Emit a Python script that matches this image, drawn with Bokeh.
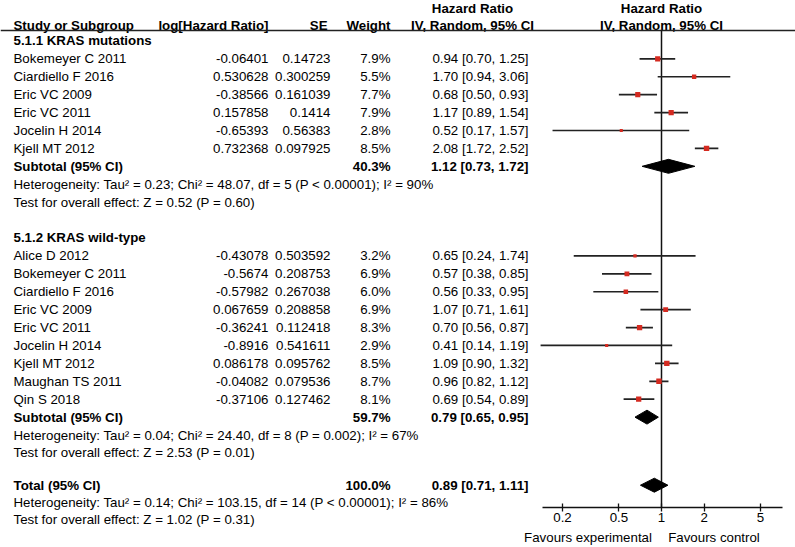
from math import sqrt
from bokeh.plotting import figure
from bokeh.models import (Range1d, LogScale, LogAxis, FixedTicker, ColumnDataSource,
                          CustomJSTickFormatter)
from bokeh.core.properties import value
from bokeh.embed import file_html
from bokeh.resources import INLINE

# ---------------- data ----------------
g1_title = "5.1.1 KRAS mutations"
g1_study = ["Bokemeyer C 2011", "Ciardiello F 2016", "Eric VC 2009", "Eric VC 2011",
            "Jocelin H 2014", "Kjell MT 2012"]
g1_loghr = [-0.06401, 0.530628, -0.38566, 0.157858, -0.65393, 0.732368]
g1_se = [0.14723, 0.300259, 0.161039, 0.1414, 0.56383, 0.097925]
g1_weight = [7.9, 5.5, 7.7, 7.9, 2.8, 8.5]
g1_hr = [0.94, 1.70, 0.68, 1.17, 0.52, 2.08]
g1_lo = [0.70, 0.94, 0.50, 0.89, 0.17, 1.72]
g1_hi = [1.25, 3.06, 0.93, 1.54, 1.57, 2.52]
g1_sub_weight = 40.3
g1_sub = [1.12, 0.73, 1.72]
g1_het = "Heterogeneity: Tau\u00b2 = 0.23; Chi\u00b2 = 48.07, df = 5 (P < 0.00001); I\u00b2 = 90%"
g1_test = "Test for overall effect: Z = 0.52 (P = 0.60)"

g2_title = "5.1.2 KRAS wild-type"
g2_study = ["Alice D 2012", "Bokemeyer C 2011", "Ciardiello F 2016", "Eric VC 2009",
            "Eric VC 2011", "Jocelin H 2014", "Kjell MT 2012", "Maughan TS 2011", "Qin S 2018"]
g2_loghr = [-0.43078, -0.5674, -0.57982, 0.067659, -0.36241, -0.8916, 0.086178, -0.04082, -0.37106]
g2_se = [0.503592, 0.208753, 0.267038, 0.208858, 0.112418, 0.541611, 0.095762, 0.079536, 0.127462]
g2_weight = [3.2, 6.9, 6.0, 6.9, 8.3, 2.9, 8.5, 8.7, 8.1]
g2_hr = [0.65, 0.57, 0.56, 1.07, 0.70, 0.41, 1.09, 0.96, 0.69]
g2_lo = [0.24, 0.38, 0.33, 0.71, 0.56, 0.14, 0.90, 0.82, 0.54]
g2_hi = [1.74, 0.85, 0.95, 1.61, 0.87, 1.19, 1.32, 1.12, 0.89]
g2_sub_weight = 59.7
g2_sub = [0.79, 0.65, 0.95]
g2_het = "Heterogeneity: Tau\u00b2 = 0.04; Chi\u00b2 = 24.40, df = 8 (P = 0.002); I\u00b2 = 67%"
g2_test = "Test for overall effect: Z = 2.53 (P = 0.01)"

total_weight = 100.0
total = [0.89, 0.71, 1.11]
total_het = "Heterogeneity: Tau\u00b2 = 0.14; Chi\u00b2 = 103.15, df = 14 (P < 0.00001); I\u00b2 = 86%"
total_test = "Test for overall effect: Z = 1.02 (P = 0.31)"

tick_values = [0.2, 0.5, 1, 2, 5]
favours = ["Favours experimental", "Favours control"]

# ---------------- layout / style ----------------
FONT = "Liberation Sans"
FS = "13.3px"
ROW0, STEP = 40.5, 17.95
W, H = 795, 547
AXIS_Y = 508                     # pixel row of the forest x axis
PX_ONE, PX_DEC = 661, 141.6      # pixel of HR = 1 and pixels per decade
FAV_AT = [0.3027, 2.349]         # axis positions of the two "Favours" captions
X_NAME, X_LOG, X_SE, X_W, X_HR, X_HRHDR = 13, 268, 330, 390, 528, 472
SQ_RED = "#d42a20"
LINE = "#222222"


def ry(k):
    return ROW0 + STEP * k


def fmt_ci(e, l, h):
    return f"{e:.2f} [{l:.2f}, {h:.2f}]"


def hr_of_px(px):
    return 10 ** ((px - PX_ONE) / PX_DEC)


p = figure(width=W, height=H, output_backend="svg", toolbar_location=None,
           x_range=Range1d(0, W), y_range=Range1d(AXIS_Y, 0),
           x_axis_location=None, y_axis_location=None,
           min_border_left=0, min_border_right=0, min_border_top=0,
           min_border_bottom=H - AXIS_Y)
p.extra_x_ranges = {"hr": Range1d(hr_of_px(0), hr_of_px(W))}
p.extra_x_scales = {"hr": LogScale()}
p.outline_line_color = None
p.grid.grid_line_color = None
p.background_fill_color = "white"
p.border_fill_color = "white"


def txt(x, y, t, align="left", bold=False, **kw):
    p.text(x=x, y=y, text=t, text_font=value(FONT), text_font_size=value(FS),
           text_align=align, text_baseline="middle", text_color="black",
           text_font_style="bold" if bold else "normal", **kw)


# ---- header ----
txt([X_NAME], [25], ["Study or Subgroup"], bold=True)
txt([X_LOG], [25], ["log[Hazard Ratio]"], "right", True)
txt([X_SE - 3], [25], ["SE"], "right", True)
txt([X_W], [25], ["Weight"], "right", True)
txt([X_HRHDR, X_HRHDR], [8, 25], ["Hazard Ratio", "IV, Random, 95% CI"], "center", True)
txt([1, 1], [8, 25], ["Hazard Ratio", "IV, Random, 95% CI"], "center", True,
    x_range_name="hr")
p.segment(x0=[0], x1=[W], y0=[30], y1=[30], line_color=LINE, line_width=1.5)

# ---- study rows ----
study = g1_study + g2_study
rows_y = [ry(k) for k in range(1, 7)] + [ry(k) for k in range(12, 21)]
weight = g1_weight + g2_weight
hr = g1_hr + g2_hr
lo = g1_lo + g2_lo
hi = g1_hi + g2_hi
src = ColumnDataSource(dict(
    y=rows_y, name=study,
    loghr=[str(v) for v in g1_loghr + g2_loghr],
    se=[str(v) for v in g1_se + g2_se],
    w=[f"{v:.1f}%" for v in weight],
    ci=[fmt_ci(e, l, h) for e, l, h in zip(hr, lo, hi)],
    hr=hr, lo=lo, hi=hi, size=[1.85 * sqrt(v) for v in weight],
))
common = dict(source=src, text_font=value(FONT), text_font_size=value(FS),
              text_baseline="middle", text_color="black")
p.text(x=X_NAME, y="y", text="name", text_align="left", **common)
p.text(x=X_LOG, y="y", text="loghr", text_align="right", **common)
p.text(x=X_SE, y="y", text="se", text_align="right", **common)
p.text(x=X_W, y="y", text="w", text_align="right", **common)
p.text(x=X_HR, y="y", text="ci", text_align="right", **common)

# ---- group titles, subtotals, total ----
txt([X_NAME, X_NAME], [ry(0), ry(11)], [g1_title, g2_title], bold=True)
sub_y = [ry(7), ry(21), ry(24.8)]
txt([X_NAME] * 3, sub_y, ["Subtotal (95% CI)", "Subtotal (95% CI)", "Total (95% CI)"],
    bold=True)
txt([X_W] * 3, sub_y,
    [f"{v:.1f}%" for v in (g1_sub_weight, g2_sub_weight, total_weight)], "right", True)
summ = [g1_sub, g2_sub, total]
txt([X_HR] * 3, sub_y, [fmt_ci(*s) for s in summ], "right", True)
txt([X_NAME] * 4, [ry(8), ry(9), ry(22), ry(23)], [g1_het, g1_test, g2_het, g2_test])
# the last two lines sit at / below the axis row, so they are drawn unclipped
txt([X_NAME] * 2, [ry(25.75), ry(26.7)], [total_het, total_test], level="overlay")

# ---- forest ----
p.segment(x0=[1], x1=[1], y0=[30], y1=[AXIS_Y], x_range_name="hr",
          line_color="#111111", line_width=1.5)
p.segment(x0="lo", x1="hi", y0="y", y1="y", source=src, x_range_name="hr",
          line_color=LINE, line_width=1.7)
p.scatter(x="hr", y="y", size="size", marker="square", source=src, x_range_name="hr",
          fill_color=SQ_RED, line_color=None)
HD = 7
xs = [[s[1], s[0], s[2], s[0]] for s in summ]
ys = [[y, y - HD, y, y + HD] for y in sub_y]
p.patches(xs=xs, ys=ys, x_range_name="hr", fill_color="black", line_color="black")

axis = LogAxis(x_range_name="hr", ticker=FixedTicker(ticks=tick_values, minor_ticks=[]),
               bounds=(hr_of_px(542), hr_of_px(782)),
               formatter=CustomJSTickFormatter(code="return tick.toString()"),
               axis_line_color="#111111", axis_line_width=1.3,
               major_tick_line_color="#111111", major_tick_line_width=1.3,
               major_tick_in=4, major_tick_out=4, minor_tick_line_color=None,
               major_label_standoff=1, major_label_text_font=FONT,
               major_label_text_font_size=FS, major_label_text_color="black")
p.add_layout(axis, "below")

fav_axis = LogAxis(x_range_name="hr", ticker=FixedTicker(ticks=FAV_AT, minor_ticks=[]),
                   formatter=CustomJSTickFormatter(
                       args=dict(left=favours[0], right=favours[1]),
                       code="return tick < 1 ? left : right"),
                   axis_line_color=None, major_tick_line_color=None,
                   minor_tick_line_color=None, major_tick_in=0, major_tick_out=0,
                   major_label_standoff=5, major_label_text_font=FONT,
                   major_label_text_font_size=FS, major_label_text_color="black")
p.add_layout(fav_axis, "below")

open("out.html", "w").write(file_html(p, INLINE))
